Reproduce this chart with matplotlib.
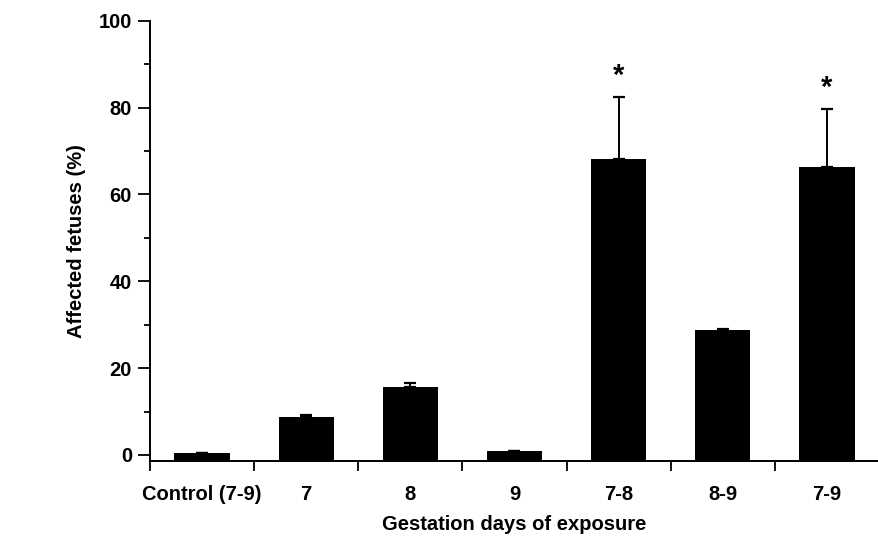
import numpy as np
import matplotlib.pyplot as plt

###############################################################################
# Data
categories = ['Control (7-9)', '7', '8', '9', '7-8', '8-9', '7-9']
affected = [0.4, 8.8, 15.7, 0.9, 68.2, 28.8, 66.4]
error_up = [0.0, 0.4, 0.9, 0.0, 14.3, 0.3, 13.3]
significant = [False, False, False, False, True, False, True]

# Bars stand on the x axis line, which sits a bit below zero
axis_floor = -1.4

###############################################################################
# Figure
plt.rcParams['font.family'] = ['Liberation Sans', 'DejaVu Sans']
plt.rcParams['font.weight'] = 'bold'

fig = plt.figure(figsize=(8.79, 5.36), dpi=100)
ax = fig.add_axes([0.1706, 0.1399, 0.8294, 0.8215])

x = np.arange(len(categories))
heights = np.array(affected) - axis_floor
ax.bar(x, heights, bottom=axis_floor, width=0.53, color='black')

# One-sided error bars (upper only)
ax.errorbar(x, affected, yerr=[np.zeros(len(x)), error_up], fmt='none',
            ecolor='black', elinewidth=1.4, capsize=4, capthick=1.6)

# Significance stars above error bars
for xi, yi, ei, sig in zip(x, affected, error_up, significant):
    if sig:
        ax.annotate('*', (xi, yi + ei), xytext=(0, 5),
                    textcoords='offset points', ha='center', va='bottom',
                    fontsize=21, fontweight='bold')

ax.set_xlim(-0.5, 6.5)
ax.set_ylim(axis_floor, 100)

# Spines
for side in ['top', 'right']:
    ax.spines[side].set_visible(False)
for side in ['left', 'bottom']:
    ax.spines[side].set_linewidth(1.4)

# y ticks: major every 20, minor every 10
ax.set_yticks(np.arange(0, 101, 20))
ax.set_yticks(np.arange(10, 100, 20), minor=True)
ax.tick_params(axis='y', which='major', length=9, width=1.3, pad=4,
               labelsize=14.5)
ax.tick_params(axis='y', which='minor', length=4.5, width=1.3)

# x ticks: labels at centers, tick marks at category boundaries
ax.set_xticks(x)
ax.set_xticklabels(categories)
ax.set_xticks(np.arange(-0.5, 6.0, 1.0), minor=True)
ax.tick_params(axis='x', which='major', length=0, pad=17, labelsize=14.5)
ax.tick_params(axis='x', which='minor', length=7, width=1.3)

ax.set_xlabel('Gestation days of exposure', fontsize=14.5,
              fontweight='bold', labelpad=8)
ax.set_ylabel('Affected fetuses (%)', fontsize=14.5, fontweight='bold',
              labelpad=9)

fig.savefig('out.png', dpi=100)
